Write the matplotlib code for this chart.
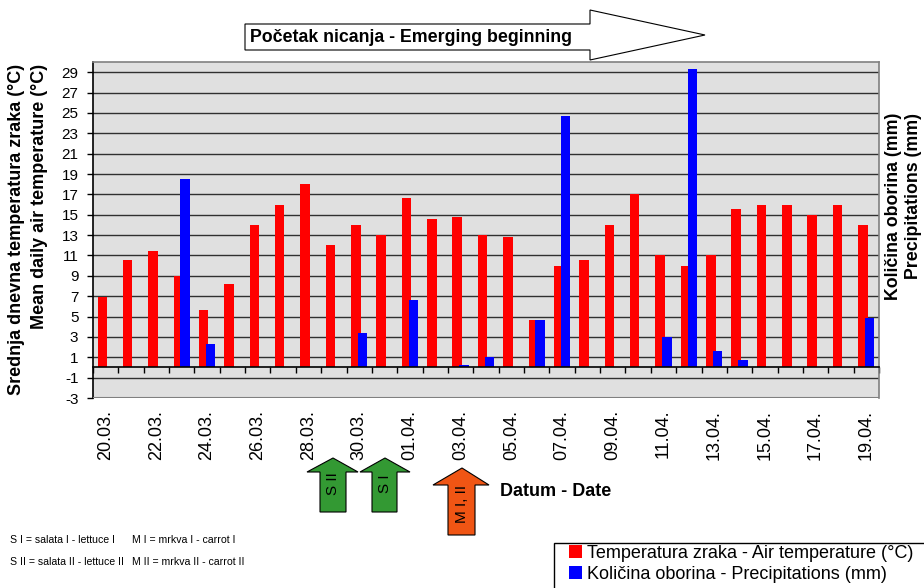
import matplotlib
matplotlib.use('Agg')
import matplotlib.pyplot as plt
import matplotlib.transforms as mtransforms
from matplotlib.patches import Polygon, Rectangle
import numpy as np

plt.rcParams['font.family'] = ['Liberation Sans', 'DejaVu Sans']

days = ['20.03.', '21.03.', '22.03.', '23.03.', '24.03.', '25.03.', '26.03.', '27.03.',
        '28.03.', '29.03.', '30.03.', '31.03.', '01.04.', '02.04.', '03.04.', '04.04.',
        '05.04.', '06.04.', '07.04.', '08.04.', '09.04.', '10.04.', '11.04.', '12.04.',
        '13.04.', '14.04.', '15.04.', '16.04.', '17.04.', '18.04.', '19.04.']
temperature = [6.9, 10.6, 11.4, 9.0, 5.6, 8.2, 14.0, 16.0, 18.0, 12.0, 14.0, 13.0,
               16.6, 14.6, 14.8, 13.0, 12.8, 4.7, 10.0, 10.6, 14.0, 17.0, 11.0, 10.0,
               11.0, 15.6, 16.0, 16.0, 15.0, 16.0, 14.0]
precipitation = [0, 0, 0, 18.5, 2.3, 0, 0, 0, 0, 0, 3.4, 0, 6.6, 0, 0.2, 1.0, 0, 4.7,
                 24.7, 0, 0, 0, 3.0, 29.3, 1.6, 0.7, 0, 0, 0, 0, 4.9]
y_ticks = list(range(-3, 30, 2))

W, H = 924, 588


def fx(x):
    return x / W


def fy(y):
    return 1 - y / H


fig = plt.figure(figsize=(W / 100, H / 100), dpi=100)
ax = fig.add_axes([fx(93), fy(398), fx(879) - fx(93), fy(62) - fy(398)])
ax.set_facecolor('#e0e0e0')

x = np.arange(len(days))
bw = 0.375
ax.bar(x - 0.135, temperature, bw, color='#ff0000', zorder=2,
       label='Temperatura zraka - Air temperature (°C)')
ax.bar(x + 0.135, precipitation, bw, color='#0000ff', zorder=2,
       label='Količina oborina - Precipitations (mm)')

ax.set_xlim(-0.5, len(days) - 0.5)
ax.set_ylim(-3, 30)
ax.set_yticks(y_ticks)
ax.set_yticklabels([str(v) for v in y_ticks], fontsize=11)
ax.yaxis.grid(True, color='#303030', lw=1.0)
ax.set_axisbelow(True)
ax.axhline(-3, color='#808080', lw=1.5, zorder=3)

ax.spines['bottom'].set_position(('data', 0))
ax.spines['bottom'].set_color('black')
ax.spines['left'].set_color('black')
ax.spines['top'].set_color('#808080')
ax.spines['right'].set_color('#808080')
for s in ax.spines.values():
    s.set_linewidth(1.2)
ax.set_xticks(np.arange(-0.5, len(days), 1))
ax.set_xticklabels([])
ax.tick_params(axis='x', direction='out', length=4, width=1)
ax.tick_params(axis='y', direction='out', length=4.5, width=1, pad=6)

trans = mtransforms.blended_transform_factory(ax.transData, fig.transFigure)
for i in range(0, len(days), 2):
    ax.text(x[i], fy(410), days[i], transform=trans, rotation=90,
            ha='center', va='top', fontsize=13)

# axis titles
fig.text(fx(17), fy(64), 'Srednja dnevna temperatura zraka (°C)', rotation=90,
         ha='center', va='top', fontsize=13, fontweight='bold')
fig.text(fx(40), fy(64), 'Mean daily air temperature (°C)', rotation=90,
         ha='center', va='top', fontsize=13, fontweight='bold')
fig.text(fx(893), fy(113), 'Količina oborina (mm)', rotation=90,
         ha='center', va='top', fontsize=12.8, fontweight='bold')
fig.text(fx(914), fy(113), 'Precipitations (mm)', rotation=90,
         ha='center', va='top', fontsize=12.8, fontweight='bold')
fig.text(fx(500), fy(492), 'Datum - Date', ha='left', va='center',
         fontsize=13, fontweight='bold')


def arrow(points, color):
    poly = Polygon([(fx(a), fy(b)) for a, b in points], closed=True,
                   transform=fig.transFigure, facecolor=color,
                   edgecolor='black', lw=0.8)
    fig.patches.append(poly)


# top arrow
arrow([(245, 24), (590, 24), (590, 10), (705, 35), (590, 60), (590, 50), (245, 50)], 'white')
fig.text(fx(250), fy(37), 'Početak nicanja - Emerging beginning', ha='left',
         va='center', fontsize=12.8, fontweight='bold')

# sowing arrows
arrow([(320, 512), (320, 472), (307, 472), (333, 458), (358, 472), (346, 472), (346, 512)], '#339933')
arrow([(372, 512), (372, 472), (360, 472), (385, 458), (410, 472), (397, 472), (397, 512)], '#339933')
arrow([(448, 535), (448, 485), (433, 485), (462, 468), (489, 485), (475, 485), (475, 535)], '#f05514')
fig.text(fx(333), fy(484), 'S II', rotation=90, ha='center', va='center', fontsize=11)
fig.text(fx(385), fy(484), 'S I', rotation=90, ha='center', va='center', fontsize=11)
fig.text(fx(462), fy(504), 'M I, II', rotation=90, ha='center', va='center', fontsize=11)

# notes
notes = ['S I = salata I - lettuce I', 'S II = salata II - lettuce II',
         'M I = mrkva I - carrot I', 'M II = mrkva II - carrot II']
note_pos = [(10, 540), (10, 562), (132, 540), (132, 562)]
for txt, (a, b) in zip(notes, note_pos):
    fig.text(fx(a), fy(b), txt, ha='left', va='center', fontsize=7.6)

# legend frame runs past the figure edge as in the original
fig.patches.append(Rectangle((fx(554), fy(600)), fx(400), fy(543) - fy(600),
                             transform=fig.transFigure, facecolor='white',
                             edgecolor='black', lw=1.0))
leg = fig.legend(loc='upper left', bbox_to_anchor=(fx(569), fy(545)),
                 borderaxespad=0, fontsize=13, frameon=False,
                 handlelength=0.7, handleheight=0.7, handletextpad=0.3,
                 labelspacing=0.22, borderpad=0)

fig.savefig('out.png', dpi=100)
